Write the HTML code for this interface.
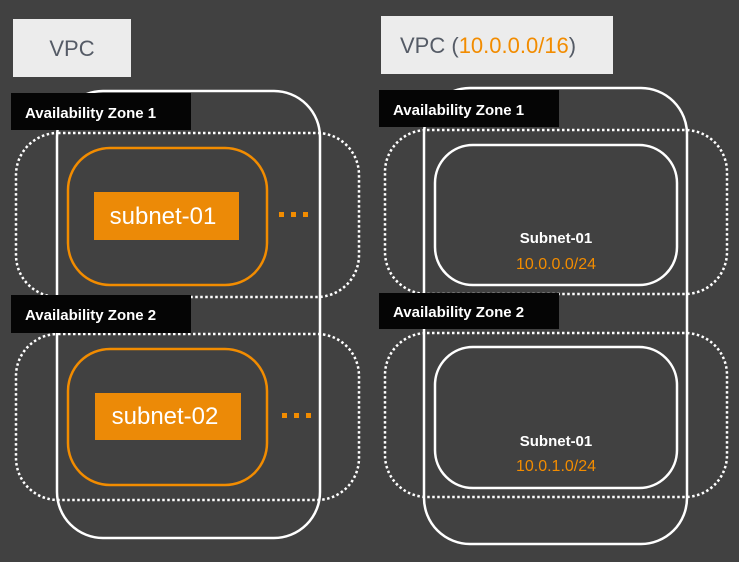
<!DOCTYPE html>
<html><head><style>
body{margin:0;background:#414141;width:739px;height:562px;overflow:hidden}
svg{display:block}
text{font-family:"Liberation Sans",sans-serif}
</style></head><body>
<svg width="739" height="562" viewBox="0 0 739 562">
<rect width="739" height="562" fill="#414141"/>
<!-- LEFT -->
<rect x="13" y="19" width="118" height="58" fill="#ececec"/>
<text x="72" y="56" font-size="22" fill="#555b66" text-anchor="middle">VPC</text>
<rect x="57" y="91" width="263" height="447" rx="46" fill="none" stroke="#fff" stroke-width="2.5"/>
<rect x="16" y="133" width="343" height="164" rx="42" fill="none" stroke="#fff" stroke-width="2.5" stroke-dasharray="2.5 2.5"/>
<rect x="16" y="334" width="343" height="166" rx="42" fill="none" stroke="#fff" stroke-width="2.5" stroke-dasharray="2.5 2.5"/>
<rect x="68" y="148" width="199" height="137" rx="42" fill="none" stroke="#f28c00" stroke-width="2.5"/>
<rect x="68" y="349" width="199" height="136" rx="42" fill="none" stroke="#f28c00" stroke-width="2.5"/>
<rect x="94" y="192" width="145" height="48" fill="#ec8a07"/>
<text x="163" y="224" font-size="24" fill="#fff" text-anchor="middle">subnet-01</text>
<rect x="95" y="393" width="146" height="47" fill="#ec8a07"/>
<text x="165" y="424" font-size="24" fill="#fff" text-anchor="middle">subnet-02</text>
<g fill="#f28c00"><rect x="279" y="212" width="5" height="5"/><rect x="291" y="212" width="5" height="5"/><rect x="303" y="212" width="5" height="5"/>
<rect x="282" y="413" width="5" height="5"/><rect x="294" y="413" width="5" height="5"/><rect x="306" y="413" width="5" height="5"/></g>
<rect x="11" y="93" width="180" height="37" fill="#050505"/>
<text x="25" y="118" font-size="15" font-weight="bold" fill="#fff">Availability Zone 1</text>
<rect x="11" y="295" width="180" height="38" fill="#050505"/>
<text x="25" y="320" font-size="15" font-weight="bold" fill="#fff">Availability Zone 2</text>
<!-- RIGHT -->
<rect x="381" y="16" width="232" height="58" fill="#ececec"/>
<text x="400" y="53" font-size="22" fill="#555b66">VPC (<tspan fill="#f28c00">10.0.0.0/16</tspan>)</text>
<rect x="424" y="88" width="263" height="456" rx="46" fill="none" stroke="#fff" stroke-width="2.5"/>
<rect x="385" y="130" width="342" height="164" rx="42" fill="none" stroke="#fff" stroke-width="2.5" stroke-dasharray="2.5 2.5"/>
<rect x="385" y="333" width="342" height="164" rx="42" fill="none" stroke="#fff" stroke-width="2.5" stroke-dasharray="2.5 2.5"/>
<rect x="435" y="145" width="242" height="140" rx="38" fill="none" stroke="#fff" stroke-width="2.5"/>
<rect x="435" y="347" width="242" height="141" rx="38" fill="none" stroke="#fff" stroke-width="2.5"/>
<text x="556" y="243" font-size="15" font-weight="bold" fill="#fff" text-anchor="middle">Subnet-01</text>
<text x="556" y="269" font-size="16" fill="#f28c00" text-anchor="middle">10.0.0.0/24</text>
<text x="556" y="446" font-size="15" font-weight="bold" fill="#fff" text-anchor="middle">Subnet-01</text>
<text x="556" y="471" font-size="16" fill="#f28c00" text-anchor="middle">10.0.1.0/24</text>
<rect x="379" y="90" width="180" height="37" fill="#050505"/>
<text x="393" y="115" font-size="15" font-weight="bold" fill="#fff">Availability Zone 1</text>
<rect x="379" y="293" width="180" height="36" fill="#050505"/>
<text x="393" y="317" font-size="15" font-weight="bold" fill="#fff">Availability Zone 2</text>
</svg>
</body></html>
